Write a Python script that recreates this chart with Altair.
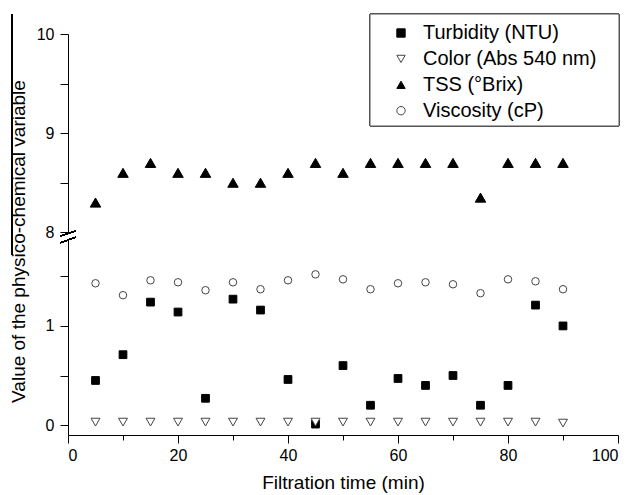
import altair as alt
import pandas as pd

# ---- data ----
time_min = [5, 10, 15, 20, 25, 30, 35, 40, 45, 50, 55, 60, 65, 70, 75, 80, 85, 90]
turbidity = [0.45, 0.71, 1.24, 1.14, 0.27, 1.27, 1.16, 0.46, 0.01, 0.60, 0.20, 0.47,
             0.40, 0.50, 0.20, 0.40, 1.21, 1.00]
color_abs = [0.03, 0.03, 0.03, 0.03, 0.03, 0.03, 0.03, 0.03, 0.03, 0.03, 0.03, 0.03,
             0.03, 0.03, 0.03, 0.03, 0.03, 0.02]
tss_brix = [8.3, 8.6, 8.7, 8.6, 8.6, 8.5, 8.5, 8.6, 8.7, 8.6, 8.7, 8.7,
            8.7, 8.7, 8.35, 8.7, 8.7, 8.7]
viscosity = [1.43, 1.31, 1.46, 1.44, 1.36, 1.44, 1.37, 1.46, 1.52, 1.47, 1.37, 1.43,
             1.44, 1.42, 1.33, 1.47, 1.45, 1.37]

series_names = ["Turbidity (NTU)", "Color (Abs 540 nm)", "TSS (°Brix)", "Viscosity (cP)"]
series_values = [turbidity, color_abs, tss_brix, viscosity]
shapes = ["square", "triangle-down", "triangle-up", "circle"]
fills = ["black", "white", "black", "white"]
strokes = ["black", "#444444", "black", "#444444"]
sizes = [60, 80, 110, 56]

# broken axis: lower segment [-0.1, LOW_TOP], upper segment [8, 10]
LOW_MIN = -0.1
LOW_TOP = 1.944
UP_MIN = 8.0
UP_MAX = 10.0
SHIFT = UP_MIN - LOW_TOP

rows = []
for name, vals in zip(series_names, series_values):
    for t, v in zip(time_min, vals):
        rows.append({"time": t, "series": name, "value": v})
df = pd.DataFrame(rows)

FONT = "Liberation Sans"

y_ticks = [0, 0.5, 1, 1.5, 8 - SHIFT, 8.5 - SHIFT, 9 - SHIFT, 9.5 - SHIFT, 10 - SHIFT]
y_labels = [(0, "0"), (1, "1"), (8 - SHIFT, "8"), (9 - SHIFT, "9"), (10 - SHIFT, "10")]
y_label_expr = " : ".join(
    f"abs(datum.value - ({v:.4f})) < 0.001 ? '{lab}'" for v, lab in y_labels
) + " : ''"

x_enc = alt.X("time:Q", scale=alt.Scale(domain=[0, 100], nice=False),
              axis=alt.Axis(values=list(range(0, 101, 10)),
                            labelExpr="datum.value % 20 === 0 ? datum.label : ''",
                            tickSize={"condition": {"test": "datum.value % 20 === 0", "value": 8}, "value": 5},
                            title="Filtration time (min)", titlePadding=10, labelPadding=4))
y_enc = alt.Y("yplot:Q", scale=alt.Scale(domain=[LOW_MIN, UP_MAX - SHIFT], nice=False, zero=False),
              axis=alt.Axis(values=y_ticks, labelExpr=y_label_expr, tickSize=8,
                            title="Value of the physico-chemical variable",
                            titleX=-40, titleY=207, labelPadding=6))

base = alt.Chart(df).transform_calculate(
    yplot=f"datum.series === 'TSS (°Brix)' ? datum.value - {SHIFT} : datum.value"
)

# legend frame (decoration, drawn beneath the legend entries)
frame = alt.Chart(df).mark_rect(fill="white", stroke="#555555", strokeWidth=1).encode(
    x=alt.value(302), x2=alt.value(551), y=alt.value(-20), y2=alt.value(92))

layers = []
for name, sz in zip(series_names, sizes):
    layers.append(
        base.transform_filter(alt.datum.series == name)
        .mark_point(filled=True, opacity=1, strokeWidth=1, size=sz)
        .encode(
            x=x_enc, y=y_enc,
            shape=alt.Shape("series:N", scale=alt.Scale(domain=series_names, range=shapes),
                            legend=alt.Legend(title=None)),
            fill=alt.Fill("series:N", scale=alt.Scale(domain=series_names, range=fills),
                          legend=alt.Legend(title=None)),
            stroke=alt.Stroke("series:N", scale=alt.Scale(domain=series_names, range=strokes),
                              legend=alt.Legend(title=None)),
        )
    )

# axis break decoration
gap = alt.Chart(df).mark_rule(color="white", strokeWidth=4).encode(
    x=alt.value(0), y=alt.value(200.5), y2=alt.value(205.5))
brk1 = alt.Chart(df).mark_rule(color="black", strokeWidth=1).encode(
    x=alt.value(-8), x2=alt.value(8), y=alt.value(202), y2=alt.value(197))
brk2 = alt.Chart(df).mark_rule(color="black", strokeWidth=1).encode(
    x=alt.value(-8), x2=alt.value(8), y=alt.value(209), y2=alt.value(203))
edge = alt.Chart(df).mark_rule(color="black", strokeWidth=1).encode(
    x=alt.value(-56), y=alt.value(-20), y2=alt.value(221))

chart = alt.layer(frame, *layers, gap, brk1, brk2, edge).properties(
    width=550, height=401,
    autosize=alt.AutoSizeParams(type="none"),
    padding={"left": 60, "top": 26, "right": 5, "bottom": 60},
).configure_view(stroke="transparent").configure_axis(
    grid=False, domainColor="black", tickColor="black", domainWidth=1, tickWidth=1,
    labelFont=FONT, labelFontSize=16, labelColor="black",
    titleFont=FONT, titleFontSize=19, titleFontWeight="normal", titleColor="black",
).configure_legend(
    orient="none", legendX=302, legendY=-32,
    strokeColor="transparent", fillColor="transparent", padding=21,
    labelFontSize=20, labelFont=FONT, labelColor="black", labelLimit=300,
    symbolSize=70, symbolStrokeWidth=1, symbolOffset=0, labelOffset=12,
    rowPadding=5.9,
)

chart.save("out.html", embed_options={"renderer": "svg", "actions": False})
